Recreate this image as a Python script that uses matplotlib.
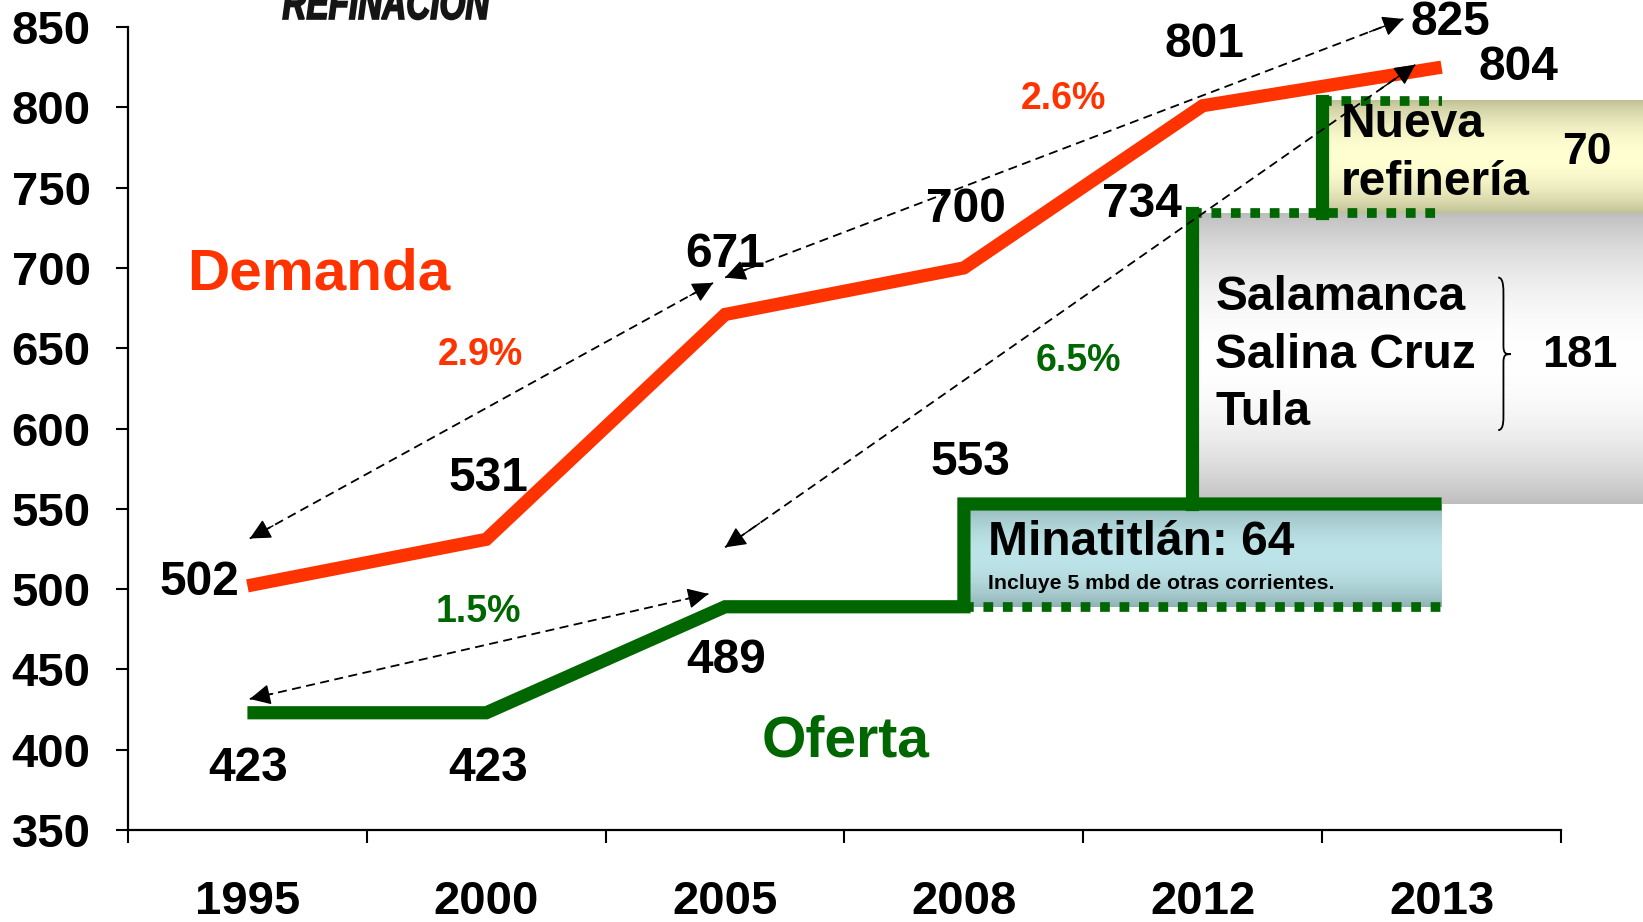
import numpy as np
import matplotlib
matplotlib.use("Agg")
import matplotlib.pyplot as plt
from matplotlib.path import Path
from matplotlib.patches import PathPatch
from matplotlib.textpath import TextPath
from matplotlib.font_manager import FontProperties
from matplotlib.transforms import Affine2D, IdentityTransform

plt.rcParams['font.family'] = ['Liberation Sans', 'DejaVu Sans']

# ---------------- data ----------------
years = ['1995', '2000', '2005', '2008', '2012', '2013']
demanda = [502, 531, 671, 700, 801, 825]
oferta = [423, 423, 489, 489]            # 1995-2008
adiciones = [64, 181, 70]                # Minatitlán, Salamanca/Salina Cruz/Tula, Nueva refinería
adicion_x = [3.0, 3.955, 4.5]            # where each addition enters
tasas = ['2.9%', '2.6%', '1.5%', '6.5%']

RED = '#FF3300'
GREEN = '#006600'

W, H = 1643, 922
fig = plt.figure(figsize=(W/100, H/100), dpi=100)
ax = fig.add_axes([128/W, 1-830/H, (1561-128)/W, (830-27)/H])

x = np.arange(len(years))
XR = 5.84  # figure right edge in data units

def gradient(x0, x1, y0, y1, edge, center, z=1):
    t = np.linspace(0, 1, 200)
    w = np.sin(np.pi * t) ** 0.8
    e = np.array(matplotlib.colors.to_rgb(edge))
    c = np.array(matplotlib.colors.to_rgb(center))
    img = e[None, :] + (c - e)[None, :] * w[:, None]
    ax.imshow(img[:, None, :], extent=[x0, x1, y0, y1], aspect='auto',
              origin='lower', zorder=z, clip_on=False, interpolation='bilinear')

# cumulative capacity levels
lvl = [oferta[-1]]
for a in adiciones:
    lvl.append(lvl[-1] + a)   # 553, 734, 804

# boxes
gradient(adicion_x[0], 5.0, lvl[0], lvl[1], '#8fb0b4', '#bde4e8')
gradient(adicion_x[1], XR, lvl[1], lvl[2], '#bdbdbd', '#ffffff')
gradient(adicion_x[2], XR, lvl[2], lvl[3], '#bfbf94', '#ffffd2')

LW = 9.5
# demand line
ax.plot(x, demanda, color=RED, lw=LW, solid_joinstyle='miter',
        solid_capstyle='butt', zorder=5)

# supply line
sx = list(x[:len(oferta)]) + [adicion_x[0], 5.0]
sy = list(oferta) + [lvl[1], lvl[1]]
ax.plot(sx, sy, color=GREEN, lw=LW, solid_joinstyle='miter',
        solid_capstyle='butt', zorder=5)
ax.plot([adicion_x[1]] * 2, [lvl[1], lvl[2]], color=GREEN, lw=LW,
        solid_capstyle='projecting', zorder=5)
ax.plot([adicion_x[2]] * 2, [lvl[2], lvl[3]], color=GREEN, lw=LW,
        solid_capstyle='projecting', zorder=5)
# dotted levels
for xs, lv in ((adicion_x[0], lvl[0]), (adicion_x[1], lvl[2]), (adicion_x[2], lvl[3])):
    ax.plot([xs, 5.0], [lv, lv], color=GREEN, lw=7,
            ls=(0, (1, 1)), dash_capstyle='butt', zorder=5)

# dashed double arrows
arrows = [((0.01, 531.5), (1.95, 690.7)),
          ((2.0, 694.0), (4.84, 855.0)),
          ((0.01, 431.6), (1.93, 497.0)),
          ((2.0, 526.0), (4.89, 826.5))]
for p0, p1 in arrows:
    p0 = np.array(p0); p1 = np.array(p1)
    ax.plot([p0[0], p1[0]], [p0[1], p1[1]], color='black', lw=1.3,
            ls=(0, (5, 3)), zorder=6, clip_on=False)
    d = p1 - p0
    for tip, back in ((p1, p1 - 0.05 * d), (p0, p0 + 0.05 * d)):
        ax.annotate('', xy=tip, xytext=back, annotation_clip=False,
                    arrowprops=dict(arrowstyle='-|>', color='black', lw=1.0,
                                    mutation_scale=32, shrinkA=0, shrinkB=0),
                    zorder=7)

# rate labels
rate_pos = [(0.974, 646), (3.417, 805), (0.969, 486), (3.478, 642)]
rate_col = [RED, RED, GREEN, GREEN]
for t, (px, py), c in zip(tasas, rate_pos, rate_col):
    ax.text(px, py, t, color=c, fontsize=27, fontweight='bold',
            ha='center', va='center', zorder=8)

# value labels
lab_kw = dict(fontsize=34.5, fontweight='bold', color='black', zorder=8)
ax.text(-0.035, 504, str(demanda[0]), ha='right', va='center', **lab_kw)
ax.text(1.009, 568.7, str(demanda[1]), ha='center', va='center', **lab_kw)
ax.text(2.0, 708.4, str(demanda[2]), ha='center', va='center', **lab_kw)
ax.text(3.009, 736.4, str(demanda[3]), ha='center', va='center', **lab_kw)
ax.text(4.009, 839, str(demanda[4]), ha='center', va='center', **lab_kw)
ax.text(5.035, 852.6, str(demanda[5]), ha='center', va='center', **lab_kw)
ax.text(5.32, 824.5, str(lvl[3]), ha='center', va='center', **lab_kw)
ax.text(3.746, 739.7, str(lvl[2]), ha='center', va='center', **lab_kw)
ax.text(3.026, 579, str(lvl[1]), ha='center', va='center', **lab_kw)
ax.text(2.004, 455.7, str(oferta[2]), ha='center', va='center', **lab_kw)
ax.text(0.004, 388.5, str(oferta[0]), ha='center', va='center', **lab_kw)
ax.text(1.009, 388.5, str(oferta[1]), ha='center', va='center', **lab_kw)

# series names
ax.text(-0.254, 696, 'Demanda', color=RED, fontsize=42, fontweight='bold',
        ha='left', va='center', zorder=8)
ax.text(2.153, 405, 'Oferta', color=GREEN, fontsize=41, fontweight='bold',
        ha='left', va='center', zorder=8)

# box texts
bx_kw = dict(fontweight='bold', color='black', zorder=8, va='center')
ax.text(4.579, 789, 'Nueva', fontsize=34.5, ha='left', **bx_kw)
ax.text(4.579, 753, 'refinería', fontsize=34.5, ha='left', **bx_kw)
ax.text(5.61, 771.7, str(adiciones[2]), fontsize=32, ha='center', **bx_kw)
ax.text(4.053, 681.6, 'Salamanca', fontsize=34.5, ha='left', **bx_kw)
ax.text(4.053, 645.7, 'Salina Cruz', fontsize=34.5, ha='left', **bx_kw)
ax.text(4.053, 609.8, 'Tula', fontsize=34.5, ha='left', **bx_kw)
ax.text(5.58, 645.7, str(adiciones[1]), fontsize=32.5, ha='center', **bx_kw)
ax.text(3.10, 528.9, 'Minatitlán: %d' % adiciones[0], fontsize=34.5, ha='left', **bx_kw)
ax.text(3.10, 503.5, 'Incluye 5 mbd de otras corrientes.', fontsize=15.3, ha='left', **bx_kw)

# brace
verts = [(5.237, 694), (5.262, 694), (5.259, 686), (5.259, 680),
         (5.259, 651.6),
         (5.259, 646.3), (5.27, 646.3), (5.29, 646.3),
         (5.27, 646.3), (5.259, 646.3), (5.259, 641),
         (5.259, 612),
         (5.259, 606), (5.262, 599), (5.237, 599)]
codes = [Path.MOVETO, Path.CURVE4, Path.CURVE4, Path.CURVE4,
         Path.LINETO,
         Path.CURVE4, Path.CURVE4, Path.CURVE4,
         Path.CURVE4, Path.CURVE4, Path.CURVE4,
         Path.LINETO,
         Path.CURVE4, Path.CURVE4, Path.CURVE4]
ax.add_patch(PathPatch(Path(verts, codes), fill=False, lw=1.3,
                       edgecolor='black', zorder=8))

# title fragment (cut off at top), condensed heavy lettering
fp = FontProperties(family='Liberation Sans', weight='bold', style='italic')
tp = TextPath((0, 0), 'REFINACIÓN', size=48, prop=fp)
bb = tp.get_extents()
sxf = 207 / bb.width
tr = Affine2D().translate(-bb.x0, 0).scale(sxf, 1.0).translate(283, H - 19)
fig.patches.append(PathPatch(tp, transform=tr + IdentityTransform(),
                             facecolor='#151515', edgecolor='#151515', lw=1.2,
                             figure=fig))

# axes styling
ax.set_xlim(-0.5, 5.5)
ax.set_ylim(350, 850)
for s in ['top', 'right']:
    ax.spines[s].set_visible(False)
for s in ['left', 'bottom']:
    ax.spines[s].set_linewidth(1.6)
ax.set_yticks(np.arange(350, 851, 50))
ax.tick_params(axis='y', length=9, width=1.5, pad=18, labelsize=34)
for lab in ax.get_yticklabels():
    lab.set_fontweight('bold')
ax.set_xticks(np.arange(-0.5, 6, 1))
ax.set_xticklabels([])
ax.set_xticks(x, minor=True)
ax.set_xticklabels(years, minor=True, fontweight='bold')
ax.tick_params(axis='x', which='major', length=9, width=1.5)
ax.tick_params(axis='x', which='minor', length=0, pad=36, labelsize=34)

fig.savefig('out.png', dpi=100)
